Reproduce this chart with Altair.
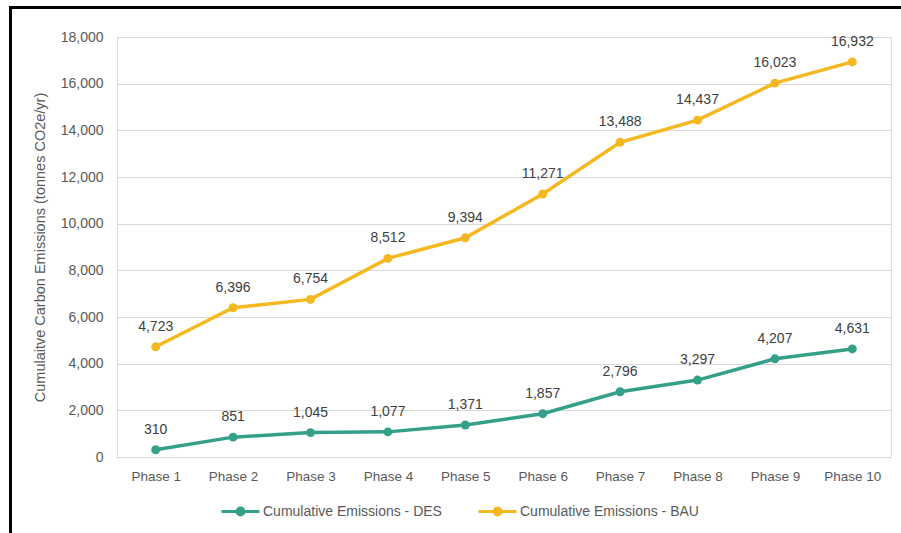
import altair as alt
import pandas as pd

phases = [f"Phase {i}" for i in range(1, 11)]
des = [310, 851, 1045, 1077, 1371, 1857, 2796, 3297, 4207, 4631]
bau = [4723, 6396, 6754, 8512, 9394, 11271, 13488, 14437, 16023, 16932]
series_names = ["Cumulative Emissions - DES", "Cumulative Emissions - BAU"]
series_colors = ["#35A08A", "#F5B820"]

rows = []
for name, vals in zip(series_names, [des, bau]):
    for p, v in zip(phases, vals):
        rows.append({"phase": p, "value": v, "series": name})
df = pd.DataFrame(rows)

FONT = "Liberation Sans"
GREY = "#595959"

x = alt.X("phase:N", sort=phases, title=None,
          scale=alt.Scale(paddingInner=0, paddingOuter=0.0),
          axis=alt.Axis(labelAngle=0, ticks=False, domain=False, labelPadding=12,
                        labelFontSize=13.5, labelColor=GREY, labelFont=FONT, grid=False))
y = alt.Y("value:Q", title="Cumulaitve Carbon Emissions (tonnes CO2e/yr)",
          scale=alt.Scale(domain=[0, 18000], nice=False),
          axis=alt.Axis(values=list(range(0, 18001, 2000)),
                        labelExpr="format(datum.value, ',')", ticks=False,
                        domain=False, labelPadding=14, labelFontSize=14, labelColor=GREY,
                        labelFont=FONT, titleFont=FONT, titleFontSize=14.5,
                        titleFontWeight="normal", titleColor=GREY, titlePadding=13,
                        gridColor="#D9D9D9", gridWidth=1))

# line with a dot in the middle, for the legend symbols
sym = ("M-1,0H1M0,-0.08A0.08,0.08 0 1,1 0,0.08A0.08,0.08 0 1,1 0,-0.08"
       "M0,-0.18A0.18,0.18 0 1,1 0,0.18A0.18,0.18 0 1,1 0,-0.18")
color = alt.Color("series:N", sort=series_names,
                  scale=alt.Scale(domain=series_names, range=series_colors),
                  legend=alt.Legend(title=None, orient="none", legendX=103, legendY=454,
                                    direction="horizontal", symbolType=sym,
                                    symbolSize=1444, symbolStrokeWidth=3,
                                    labelFont=FONT, labelFontSize=14, labelColor=GREY,
                                    labelOffset=2, columnPadding=30, labelLimit=300))

base = alt.Chart(df)
lines = base.mark_line(strokeWidth=3.5).encode(x=x, y=y, color=color)
points = base.mark_circle(size=80, opacity=1).encode(
    x=x, y=y,
    color=alt.Color("series:N", scale=alt.Scale(domain=series_names, range=series_colors),
                    legend=None))
labels = base.mark_text(dy=-20, fontSize=14, font=FONT, color="#404040").encode(
    x=x, y=y, text=alt.Text("value:Q", format=","))

frame_left = alt.Chart(df).mark_rule(color="black", strokeWidth=3).encode(
    x=alt.value(-106.5), y=alt.value(-31), y2=alt.value(520))
frame_top = alt.Chart(df).mark_rule(color="black", strokeWidth=3).encode(
    x=alt.value(-108), x2=alt.value(820), y=alt.value(-29.5))

chart = alt.layer(lines, points, labels, frame_left, frame_top).properties(
    width=774, height=420,
    autosize=alt.AutoSizeParams(type="none"),
    padding={"left": 117, "top": 37, "right": 10, "bottom": 76},
).configure_view(stroke=None).configure(background="white")

chart.save("out.html", embed_options={"renderer": "svg", "actions": False})
